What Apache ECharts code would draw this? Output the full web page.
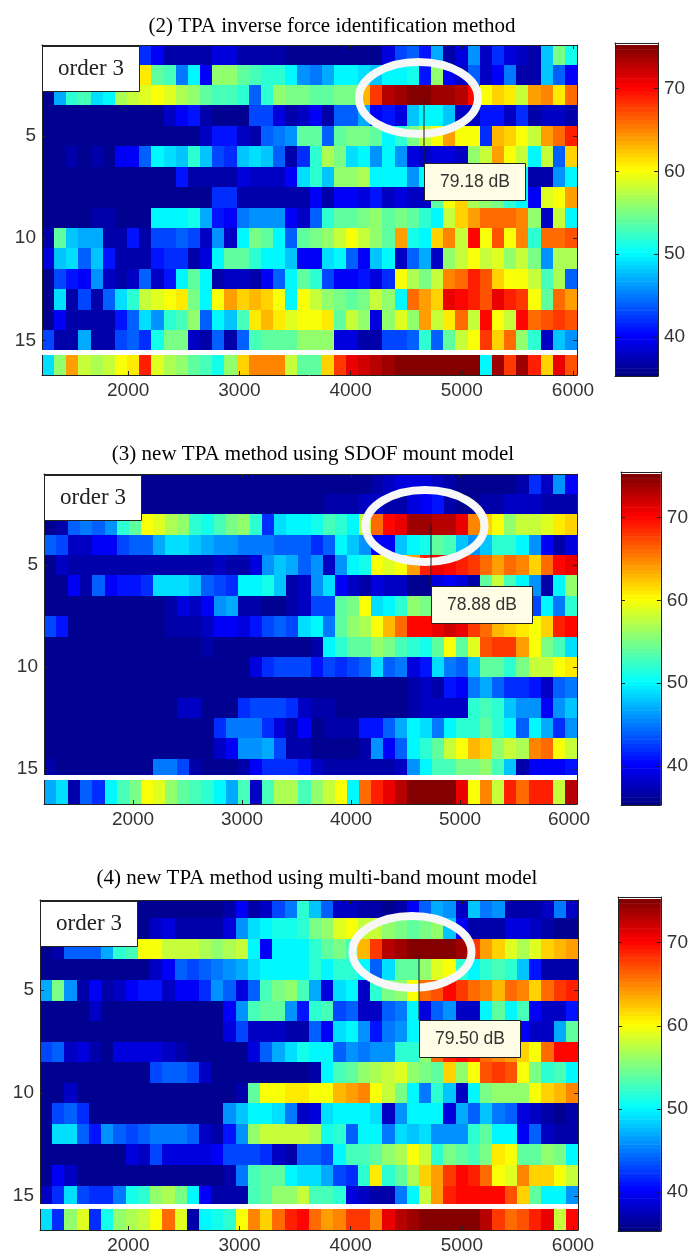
<!DOCTYPE html>
<html><head><meta charset="utf-8">
<style>html,body{margin:0;padding:0;background:#fff}#c{width:691px;height:1256px}</style>
<script src="https://cdn.jsdelivr.net/npm/echarts@6/dist/echarts.min.js"></script>
</head><body><div id="c"></div>
<script>
const panelTitles = ['(2) TPA inverse force identification method','(3) new TPA method using SDOF mount model','(4) new TPA method using multi-band mount model'];
const peakLabels = ['79.18 dB','78.88 dB','79.50 dB'];
const orderLabel = 'order 3';
const rpmTicks = [2000,3000,4000,5000,6000];
const orderTicks = [5,10,15];
const dbTicks = [40,50,60,70];
const jet = ['#00007F','#0000FF','#007FFF','#00FFFF','#7FFF7F','#FFFF00','#FF7F00','#FF0000','#7F0000'];
const colorbarLevels = [35,35.5,36,36.5,37,37.5,38,38.5,39,39.5,40,40.5,41,41.5,42,42.5,43,43.5,44,44.5,45,45.5,46,46.5,47,47.5,48,48.5,49,49.5,50,50.5,51,51.5,52,52.5,53,53.5,54,54.5,55,55.5,56,56.5,57,57.5,58,58.5,59,59.5,60,60.5,61,61.5,62,62.5,63,63.5,64,64.5,65,65.5,66,66.5,67,67.5,68,68.5,69,69.5,70,70.5,71,71.5,72,72.5,73,73.5,74,74.5,75];

// order (row) x engine speed (column) levels in dB
const tpaInverse = [
[36,36,36,36,36,36,36,36,42,40,37,37,37,37,39,39,37,37,37,37,36,36, 36,36,36,36,36,36,39,43,44,41,47,37,39,46,38,42,39,38,37,48,55,51],
[55,55,55,55,55,55,55,55,61,54,53,45,50,40,56,56,54,53,52,52,50,46, 45,47,50,50,49,48,50,50,51,41,56,40,38,44,38,40,45,37,37,48,44,40],
[36,47,52,53,49,50,57,58,59,60,59,57,56,54,53,53,52,44,52,56,55,55, 54,54,55,55,63,68,73,74,75,75,74,74,73,70,60,62,61,58,64,65,61,66],
[36,36,36,36,36,36,36,36,36,36,38,40,41,37,36,36,36,43,43,39,37,38, 40,37,44,44,47,40,41,39,48,50,50,48,38,38,41,41,38,42,37,38,38,37],
[36,36,36,36,36,36,36,36,36,36,36,36,36,38,41,41,38,37,44,45,46,54, 54,44,54,55,55,54,50,52,55,58,60,64,60,60,42,63,62,60,58,64,66,69],
[36,36,37,36,37,36,40,40,44,50,49,48,52,48,43,42,48,49,48,44,37,42, 52,57,55,49,50,46,50,46,39,38,39,39,38,56,58,64,60,58,50,58,44,62],
[36,36,36,36,36,36,36,36,36,36,36,41,37,37,37,37,39,38,38,38,40,49, 52,48,56,56,57,50,50,50,46,50,50,50,50,50,50,50,50,50,37,37,46,50],
[36,36,36,36,36,36,36,36,36,36,36,36,36,36,42,42,37,37,37,37,37,37, 40,37,40,40,39,41,38,39,38,38,54,60,62,57,56,55,52,50,40,59,60,64],
[36,36,36,36,37,37,36,36,36,50,50,50,51,47,41,40,45,46,46,46,40,38, 44,52,54,54,55,56,54,55,54,52,50,58,62,64,66,66,66,65,56,38,58,50],
[37,54,48,47,47,37,37,41,37,43,43,44,43,38,46,38,50,55,54,50,44,54, 55,56,58,60,58,56,54,64,51,50,62,65,58,70,60,67,60,65,52,66,66,67],
[39,48,49,44,48,41,37,37,37,41,42,42,37,39,50,54,54,52,50,50,48,40, 40,49,50,44,40,48,50,38,44,47,38,56,58,60,58,59,56,58,55,46,57,57],
[36,43,41,40,46,38,37,38,44,38,41,50,54,50,37,38,38,37,40,44,50,54, 52,43,40,40,41,39,42,60,57,55,58,65,66,69,67,62,60,60,58,53,57,44],
[36,49,37,43,37,44,49,52,58,59,60,61,55,50,60,64,62,63,62,60,50,60, 58,56,55,54,55,58,56,50,66,64,62,71,70,69,67,71,69,68,60,54,66,64],
[36,40,37,37,37,37,41,44,49,46,52,53,56,44,50,48,53,61,63,61,59,60, 60,61,54,58,56,39,56,59,56,64,58,61,66,58,70,60,58,70,66,67,68,67],
[43,37,37,47,37,37,43,44,42,51,55,55,38,37,44,37,44,53,54,54,54,56, 56,56,39,39,37,37,43,43,44,52,44,54,58,60,68,62,66,56,52,38,48,46],
[49,56,64,58,57,58,60,61,69,59,57,56,54,53,51,56,62,65,65,65,58,54, 54,62,68,71,72,73,74,75,75,75,75,75,75,75,50,74,68,74,69,62,71,67]
];
const tpaSdof = [
[36,36,36,36,36,36,36,36,36,36,36,36,36,36,36,36,36,36,36,36,36,36, 36,36,36,36,36,37,38,39,39,39,38,37,36,36,36,36,36,37,42,38,46,40],
[36,36,36,36,36,36,36,36,36,36,36,36,36,36,36,36,36,36,36,36,36,36, 36,37,37,37,38,38,37,37,39,40,41,37,36,36,37,37,38,38,38,37,37,37],
[36,37,44,45,44,46,52,54,60,59,57,56,52,51,53,55,56,52,42,49,50,50, 51,53,52,50,58,66,70,71,74,74,73,73,71,65,62,60,56,58,58,59,61,62],
[44,43,38,38,40,40,43,44,44,47,49,49,48,47,46,46,45,45,45,44,44,44, 42,44,50,48,46,40,40,48,50,51,54,53,48,46,48,52,52,50,46,40,37,39],
[36,38,37,37,37,37,37,37,37,37,37,37,37,37,38,37,37,39,46,48,47,44, 46,38,46,50,51,60,59,60,64,69,71,70,69,68,66,64,66,65,62,66,70,71],
[36,36,40,37,44,40,41,41,42,49,49,49,48,44,43,42,50,50,51,48,37,38, 46,49,40,38,37,39,38,38,36,36,39,40,39,37,54,58,53,50,46,37,50,56],
[36,36,36,36,36,36,36,36,36,36,37,39,38,40,46,47,37,37,36,36,37,38, 43,43,54,55,60,49,50,52,56,55,58,55,55,55,55,55,55,55,43,50,45,52],
[43,41,36,36,36,36,36,36,36,36,37,37,37,38,40,40,39,41,43,44,43,49, 50,45,54,56,57,60,63,66,70,70,71,72,71,68,66,63,62,61,60,62,69,70],
[36,36,36,36,36,36,36,36,36,36,36,36,36,37,36,36,36,36,36,36,36,36, 37,50,52,54,54,56,55,53,52,51,54,60,54,59,67,68,68,64,60,55,53,49],
[36,36,36,36,36,36,36,36,36,36,36,36,36,36,36,36,36,39,42,43,43,43, 41,43,42,43,44,49,44,45,39,41,49,45,44,48,54,54,52,55,58,58,60,61],
[36,36,36,36,36,36,36,36,36,36,36,36,36,36,36,36,36,36,36,36,36,36, 36,36,36,36,36,36,36,36,37,38,37,41,40,45,47,44,42,42,41,38,44,45],
[36,36,36,36,36,36,36,36,36,36,36,38,38,36,36,36,42,43,43,43,42,38, 37,37,36,36,36,36,36,36,37,38,38,38,38,52,53,52,48,46,46,40,46,48],
[36,36,36,36,36,36,36,36,36,36,36,36,36,36,42,45,45,45,42,39,37,40, 36,37,37,37,41,41,44,47,50,49,45,50,52,52,54,52,50,44,50,47,42,46],
[36,36,36,36,36,36,36,36,36,36,36,36,36,36,38,40,46,46,47,43,37,37, 36,36,36,36,37,46,40,44,50,52,54,58,60,63,62,56,58,57,65,66,60,58],
[37,36,36,36,36,36,36,36,36,45,45,43,37,36,36,36,37,40,42,42,42,41, 38,37,37,37,37,37,37,38,46,50,53,53,55,55,56,53,48,37,40,40,40,41],
[47,49,37,44,42,50,53,55,60,59,56,54,53,52,50,47,53,38,53,57,57,53, 56,58,60,50,66,69,71,73,75,75,75,75,71,60,65,58,69,66,69,69,58,73]
];
const tpaMultiBand = [
[36,36,36,36,36,36,36,36,36,36,36,36,36,36,36,37,40,37,38,43,45,52, 48,44,38,38,37,37,36,37,40,44,47,46,38,48,45,46,37,37,37,38,45,38],
[36,36,36,36,36,36,36,36,36,38,39,37,37,37,37,39,46,49,50,51,51,52, 55,56,59,60,58,58,56,55,54,55,56,48,40,37,37,37,39,39,38,37,36,36],
[36,37,44,44,44,47,52,53,60,60,58,58,58,57,56,57,58,50,40,50,50,50, 52,54,55,53,63,68,73,74,75,75,75,75,74,68,64,62,59,57,59,62,63,64],
[36,36,36,36,36,36,36,36,36,38,40,44,43,44,45,46,47,49,50,50,50,50, 52,50,52,52,50,44,49,54,54,56,59,60,52,50,52,53,52,48,41,37,37,37],
[47,55,46,37,40,37,38,40,41,41,38,40,40,42,46,44,39,44,53,55,56,53, 47,39,49,50,38,52,55,56,60,66,67,70,68,66,65,63,66,65,62,66,68,69],
[36,36,36,36,38,36,36,36,36,36,36,36,36,36,36,40,46,53,54,54,46,41, 52,53,43,44,38,38,44,45,50,39,44,46,38,38,50,54,50,53,40,38,38,41],
[36,36,36,36,36,36,36,36,36,36,36,36,36,36,36,39,43,38,38,38,37,37, 44,40,49,50,46,41,45,46,50,50,50,50,50,50,50,50,50,40,38,38,47,54],
[43,44,38,39,37,36,39,39,39,39,38,37,36,36,36,36,36,39,44,47,49,51, 50,50,44,46,45,46,46,52,52,56,66,69,70,69,66,65,64,62,60,66,70,70],
[36,36,36,36,36,36,36,36,36,43,44,44,43,38,36,36,36,36,36,36,36,36, 37,50,53,54,56,57,58,59,56,55,54,62,56,60,67,68,67,60,55,52,53,50],
[36,36,38,36,36,36,36,36,36,36,36,36,36,36,36,36,37,54,60,60,61,61, 60,60,63,64,65,60,58,55,50,45,52,48,38,50,55,56,56,56,60,62,63,65],
[36,43,44,42,36,36,36,36,36,36,36,36,36,36,36,46,48,50,50,49,45,38, 39,49,50,50,50,49,38,46,50,50,50,39,47,44,48,45,44,39,38,37,36,37],
[36,49,49,44,41,46,44,43,44,45,45,45,44,38,37,41,46,56,58,58,58,58, 57,51,52,44,50,50,45,49,48,49,46,46,46,52,54,50,50,40,44,38,37,37],
[36,36,36,36,36,36,36,39,38,43,39,39,39,39,40,43,43,43,42,38,37,44, 44,43,50,53,53,54,56,57,60,58,52,55,54,53,55,61,60,54,54,56,55,50],
[36,40,38,36,36,36,36,36,36,36,36,36,36,36,36,37,45,53,54,54,50,49, 49,47,43,42,52,61,52,54,57,62,64,68,70,69,66,60,59,65,62,62,60,58],
[38,42,49,43,42,42,45,51,52,56,57,55,50,40,37,37,37,53,54,56,56,58, 53,53,52,39,38,37,37,45,50,58,64,69,70,70,70,70,67,62,54,50,50,46],
[49,42,56,59,42,51,56,57,58,60,66,59,37,50,51,52,60,65,62,66,69,70, 66,64,65,68,68,65,71,73,74,75,75,75,75,75,73,68,66,67,69,71,58,70]
];

const matrices = [tpaInverse, tpaSdof, tpaMultiBand];
// layout of each panel
const layout = [
 {l:42,r:577,t:45,b:375, xMin:1225,xMax:6036, yMin:.54,yMax:16.7, cb:[615,658,43,376], sep:[350,5], ell:[418.5,98], box:[424,163], lineTop:100, order:[42,46]},
 {l:44,r:577,t:474,b:804, xMin:1183,xMax:6073, yMin:.52,yMax:16.72, cb:[621,664,472,805], sep:[775,5], ell:[425,526], box:[431,586], lineTop:524, order:[44,475]},
 {l:40,r:578,t:900,b:1230, xMin:1205,xMax:6045, yMin:.61,yMax:16.66, cb:[618,662,897,1231], sep:[1204,5], ell:[412,952], box:[419,1020], lineTop:955, order:[40,901]}
];
const titleY = [22,450,874], titleX = [327,308,312];

const axisColor = '#222';
const grid=[],xAxis=[],yAxis=[],series=[],graphic=[],title=[];
function boxAxis(base, pos, showLabel, ticks){
  return Object.assign({position:pos, type:'value', z:5, scale:false,
    splitLine:{show:false},
    axisLine:{show:true,onZero:false,lineStyle:{color:axisColor,width:1}},
    axisTick:{show:true,inside:true,length:4,customValues:ticks,lineStyle:{color:axisColor}},
    axisLabel:{show:showLabel,customValues:ticks,color:'#333',fontFamily:'Liberation Sans',fontSize:19,margin:6,hideOverlap:false,formatter:v=>String(v)}
  },base);
}
layout.forEach((p,i)=>{
  const g=grid.length;
  grid.push({left:p.l,top:p.t,width:p.r-p.l,height:p.b-p.t});
  const xa={gridIndex:g,min:p.xMin,max:p.xMax};
  const ya={gridIndex:g,min:p.yMin,max:p.yMax,inverse:true};
  const xi=xAxis.length, yi=yAxis.length;
  xAxis.push(boxAxis(xa,'bottom',true,rpmTicks));
  xAxis.push(boxAxis(xa,'top',false,rpmTicks));
  yAxis.push(boxAxis(ya,'left',true,orderTicks));
  yAxis.push(boxAxis(ya,'right',false,orderTicks));
  const w=(p.xMax-p.xMin)/44, last=p.yMax;
  const cells=[];
  matrices[i].forEach((row,r)=>row.forEach((v,c)=>cells.push([p.xMin+c*w,r+1,v])));
  series.push({type:'custom',xAxisIndex:xi,yAxisIndex:yi,clip:true,coordinateSystem:'cartesian2d',z:2,silent:true,
    data:cells,encode:{x:0,y:1},
    renderItem(params,api){
      const x=api.value(0),rr=api.value(1);
      const a=api.coord([x,rr-.5]), b=api.coord([x+w,rr===16?last:rr+.5]);
      const x0=Math.round(a[0]),x1=Math.round(b[0]),y0=Math.round(a[1]),y1=Math.round(b[1]);
      return {type:'rect',shape:{x:x0,y:y0,width:x1-x0,height:y1-y0},style:{fill:api.visual('color')}};
    }});
  // colorbar
  const g2=grid.length, c=p.cb;
  grid.push({left:c[0],top:c[2],width:c[1]-c[0],height:c[3]-c[2]});
  const xb={gridIndex:g2,min:0,max:1}, yb={gridIndex:g2,min:35.3,max:75.5};
  const xj=xAxis.length, yj=yAxis.length;
  xAxis.push(boxAxis(xb,'bottom',false,[]));
  xAxis.push(boxAxis(xb,'top',false,[]));
  yAxis.push(boxAxis(yb,'right',true,dbTicks));
  yAxis.push(boxAxis(yb,'left',false,dbTicks));
  series.push({type:'custom',xAxisIndex:xj,yAxisIndex:yj,clip:true,z:2,silent:true,
    data:colorbarLevels.map(v=>[0,v,v]),encode:{x:0,y:1},
    renderItem(params,api){
      const v=api.value(1);
      const a=api.coord([0,v+.25]), b=api.coord([1,v-.25]);
      return {type:'rect',shape:{x:a[0],y:a[1],width:b[0]-a[0],height:b[1]-a[1]+.6},style:{fill:api.visual('color')}};
    }});
  // annotations
  title.push({text:panelTitles[i],left:titleX[i],top:titleY[i]-11,textAlign:'center',
    textStyle:{fontFamily:'Liberation Serif',fontSize:21,fontWeight:'normal',color:'#000'}});
  graphic.push({type:'rect',z:50,shape:{x:p.l,y:p.sep[0],width:p.r-p.l,height:p.sep[1]},style:{fill:'#fff'}});
  graphic.push({type:'ellipse',z:51,shape:{cx:p.ell[0],cy:p.ell[1],rx:59.5,ry:36},style:{fill:'none',stroke:'#f7f7f7',lineWidth:8}});
  graphic.push({type:'line',z:52,shape:{x1:p.box[0],y1:p.lineTop,x2:p.box[0],y2:p.box[1]},style:{stroke:'#1a1a2a',lineWidth:1}});
  graphic.push({type:'rect',z:53,shape:{x:p.box[0]+.5,y:p.box[1]+.5,width:101,height:37},style:{fill:'#FFFDE6',stroke:'#222',lineWidth:1}});
  graphic.push({type:'text',z:54,x:p.box[0]+51,y:p.box[1]+19,style:{text:peakLabels[i],fill:'#333',font:'17.5px "Liberation Sans"',textAlign:'center',textVerticalAlign:'middle',align:'center',verticalAlign:'middle'}});
  graphic.push({type:'rect',z:55,shape:{x:p.order[0]+.5,y:p.order[1]+.5,width:97,height:45},style:{fill:'#fff',stroke:'#222',lineWidth:1}});
  graphic.push({type:'text',z:56,x:p.order[0]+49,y:p.order[1]+23,style:{text:orderLabel,fill:'#222',font:'23px "Liberation Serif"',textAlign:'center',textVerticalAlign:'middle',align:'center',verticalAlign:'middle'}});
});

const chart=echarts.init(document.getElementById('c'),null,{renderer:'canvas'});
chart.setOption({animation:false,backgroundColor:'#fff',title,grid,xAxis,yAxis,series,
  visualMap:{show:false,type:'continuous',min:35.3,max:75.2,dimension:2,seriesIndex:series.map((s,i)=>i),inRange:{color:jet}},
  graphic:{elements:graphic}});
</script></body></html>
